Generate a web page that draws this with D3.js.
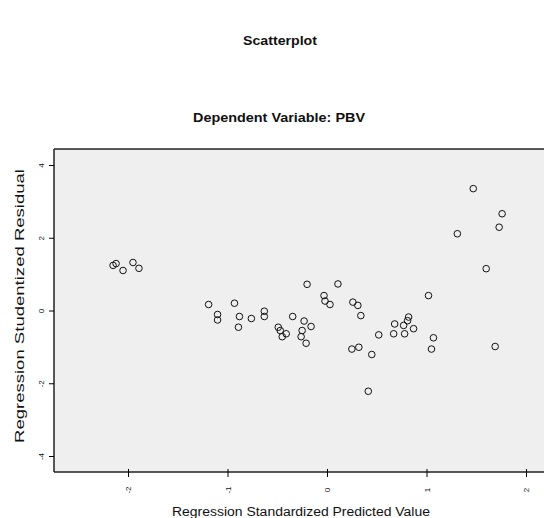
<!DOCTYPE html>
<html>
<head>
<meta charset="utf-8">
<script src="https://d3js.org/d3.v7.min.js"></script>
<style>
  body { margin: 0; background: #fff; }
  text { font-family: "Liberation Sans", Arial, sans-serif; fill: #111; }
  .title { font-family: "Liberation Sans Narrow", "Liberation Sans", sans-serif; font-weight: bold; font-size: 13px; }
  .tick text { font-size: 8px; }
</style>
</head>
<body>
<div id="chart"></div>
<script>
  // predicted values (x) and studentized residuals (y)
  var predicted = [
    -2.15, -2.12, -2.05, -1.95, -1.89,
    -1.19, -1.10, -1.10, -0.93, -0.88, -0.89, -0.76, -0.63, -0.63, -0.49,
    -0.47, -0.45, -0.41, -0.345, -0.23, -0.20, -0.25, -0.26, -0.21, -0.16,
    -0.03, -0.02, 0.03,
    0.11, 0.26, 0.31, 0.34, 0.25, 0.32, 0.45, 0.415, 0.52, 0.67,
    0.68, 0.77, 0.78, 0.81, 0.82, 0.87, 1.02, 1.07, 1.05,
    1.47, 1.76, 1.73, 1.31, 1.60, 1.69
  ];
  var residual = [
    1.24, 1.29, 1.10, 1.32, 1.16,
    0.165, -0.11, -0.26, 0.20, -0.165, -0.46, -0.22, -0.02, -0.165, -0.46,
    -0.55, -0.72, -0.64, -0.165, -0.29, 0.72, -0.55, -0.72, -0.90, -0.44,
    0.41, 0.26, 0.165,
    0.73, 0.23, 0.14, -0.14, -1.06, -1.01, -1.21, -2.22, -0.67, -0.64,
    -0.37, -0.41, -0.64, -0.28, -0.18, -0.50, 0.41, -0.75, -1.06,
    3.35, 2.66, 2.29, 2.11, 1.15, -0.99
  ];
  var xTicks = [-2, -1, 0, 1, 2];
  var yTicks = [-4, -2, 0, 2, 4];

  (function(d3) {
    'use strict';

    var width = 544, height = 518;
    var left = 54, top = 149, bottom = 472, right = 560;

    var svg = d3.select('#chart').append('svg')
      .attr('width', width)
      .attr('height', height);

    var x = d3.scaleLinear().domain([-2, 2]).range([128, 526]);
    var y = d3.scaleLinear().domain([-4, 4]).range([456, 165]);
    var fmt = function(d) { return String(d); };

    // plot background
    svg.append('rect')
      .attr('x', left).attr('y', top)
      .attr('width', right - left).attr('height', bottom - top)
      .attr('fill', '#efefef');

    // frame
    svg.append('line').attr('x1', left).attr('x2', right).attr('y1', top).attr('y2', top)
      .attr('stroke', '#222').attr('stroke-width', 1.5);
    svg.append('line').attr('x1', left).attr('x2', left).attr('y1', top).attr('y2', bottom)
      .attr('stroke', '#222').attr('stroke-width', 1.5);

    var xAxis = svg.append('g')
      .attr('transform', 'translate(0,' + bottom + ')')
      .call(d3.axisBottom(x).tickValues(xTicks).tickSize(5).tickFormat(fmt));
    xAxis.select('.domain').attr('d', 'M' + left + ',0H' + right).attr('stroke', '#222').attr('stroke-width', 1.5);
    xAxis.selectAll('.tick line').attr('y1', -3);
    xAxis.selectAll('.tick text')
      .attr('transform', 'rotate(-90)')
      .attr('text-anchor', 'middle')
      .attr('x', -18).attr('y', 0).attr('dy', '0.32em');

    var yAxis = svg.append('g')
      .attr('transform', 'translate(' + left + ',0)')
      .call(d3.axisLeft(y).tickValues(yTicks).tickSize(5).tickFormat(fmt));
    yAxis.select('.domain').remove();
    yAxis.selectAll('.tick text')
      .attr('transform', 'rotate(-90)')
      .attr('text-anchor', 'middle')
      .attr('x', 0).attr('y', -13).attr('dy', '0.32em');

    // points
    svg.append('g').selectAll('circle')
      .data(predicted.map(function(d, i) { return [d, residual[i]]; }))
      .enter().append('circle')
      .attr('cx', function(d) { return x(d[0]); })
      .attr('cy', function(d) { return y(d[1]); })
      .attr('r', 3.3)
      .attr('fill', 'none')
      .attr('stroke', '#111')
      .attr('stroke-width', 1);

    // titles
    svg.append('text').attr('class', 'title')
      .attr('x', 280).attr('y', 45).attr('text-anchor', 'middle')
      .attr('textLength', 74).attr('lengthAdjust', 'spacingAndGlyphs')
      .text('Scatterplot');
    svg.append('text').attr('class', 'title')
      .attr('x', 279).attr('y', 122).attr('text-anchor', 'middle')
      .attr('textLength', 172).attr('lengthAdjust', 'spacingAndGlyphs')
      .text('Dependent Variable: PBV');

    svg.append('text')
      .attr('x', 301).attr('y', 516).attr('text-anchor', 'middle')
      .style('font-size', '12px')
      .attr('textLength', 258).attr('lengthAdjust', 'spacingAndGlyphs')
      .text('Regression Standardized Predicted Value');
    svg.append('text')
      .attr('transform', 'translate(24,306) rotate(-90)')
      .attr('text-anchor', 'middle')
      .style('font-size', '13px')
      .attr('textLength', 274).attr('lengthAdjust', 'spacingAndGlyphs')
      .text('Regression Studentized Residual');
  })(window.d3);
</script>
</body>
</html>
